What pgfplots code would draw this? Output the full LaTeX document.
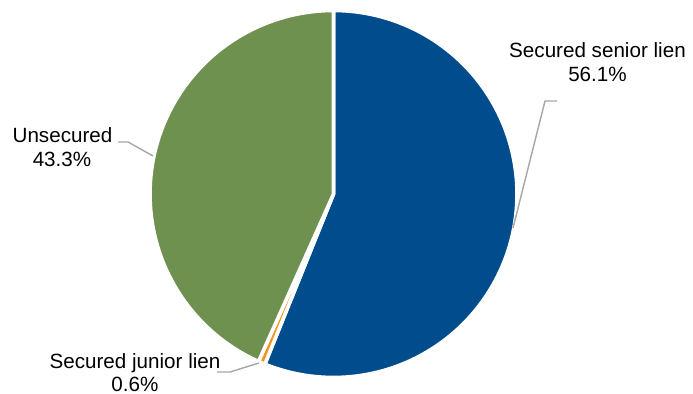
\documentclass[border=0pt]{standalone}
\usepackage{pgfplots}
\pgfplotsset{compat=1.18}
\usepackage{fontspec}
\setmainfont{Liberation Sans}
\definecolor{cblue}{HTML}{004C8C}
\definecolor{cgreen}{HTML}{6F9150}
\definecolor{corange}{HTML}{F7941D}
\definecolor{cgray}{HTML}{A6A6A6}
% slice shares (percent)
\def\vSenior{56.1}
\def\vJunior{0.6}
\def\vUnsec{43.3}
\pgfmathsetmacro{\aA}{90-3.6*\vSenior}
\pgfmathsetmacro{\aB}{\aA-3.6*\vJunior}
\pgfmathsetmacro{\aC}{\aB-3.6*\vUnsec}
\tikzset{lbl/.style={inner sep=0pt, anchor=base, font=\fontsize{20.7}{24}\selectfont}}
\begin{document}
\begin{tikzpicture}
\begin{axis}[
  width=693bp, height=394bp, scale only axis,
  xmin=0, xmax=693, ymin=0, ymax=394,
  hide axis, clip=false,
]
\path (rel axis cs:0,0) rectangle (rel axis cs:1,1);
\addplot[fill=cblue, draw=white, line width=3.6bp, domain=\aA:90, samples=150]
  ({333.5+183.5*cos(x)},{200+183.5*sin(x)}) -- (axis cs:333.5,200) -- cycle;
\addplot[fill=corange, draw=white, line width=3.6bp, domain=\aB:\aA, samples=10]
  ({333.5+183.5*cos(x)},{200+183.5*sin(x)}) -- (axis cs:333.5,200) -- cycle;
\addplot[fill=cgreen, draw=white, line width=3.6bp, domain=\aC:\aB, samples=150]
  ({333.5+183.5*cos(x)},{200+183.5*sin(x)}) -- (axis cs:333.5,200) -- cycle;
% leader lines
\addplot[cgray, line width=1.4bp] coordinates {(557,293) (545,293) (513,166)};
\addplot[cgray, line width=1.4bp] coordinates {(118,252) (128,252) (153,238)};
\addplot[cgray, line width=1.4bp] coordinates {(217,22) (230,22) (259,31)};
% labels
\node[lbl] at (axis cs:597.5,336) {Secured senior lien};
\node[lbl] at (axis cs:597.5,312) {56.1\%};
\node[lbl] at (axis cs:62.5,251) {Unsecured};
\node[lbl] at (axis cs:62,227) {43.3\%};
\node[lbl] at (axis cs:135,26) {Secured junior lien};
\node[lbl] at (axis cs:135,3) {0.6\%};
\end{axis}
\end{tikzpicture}
\end{document}
